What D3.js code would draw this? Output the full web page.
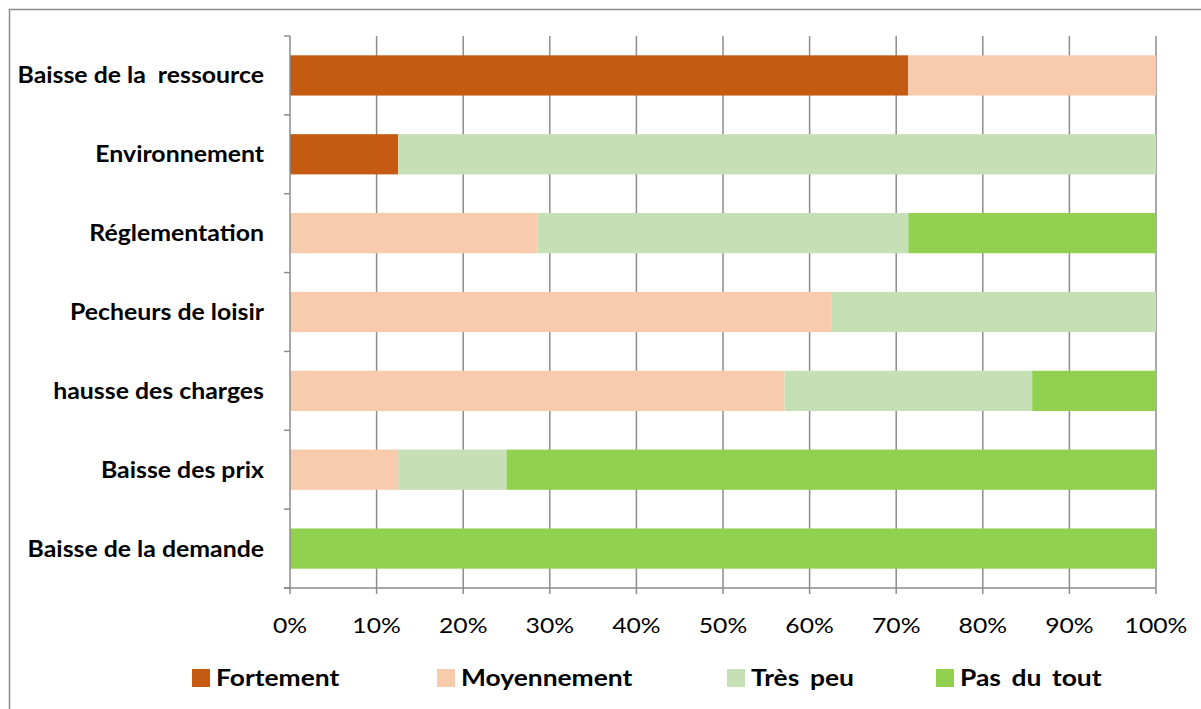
<!DOCTYPE html>
<html><head><meta charset="utf-8">
<script src="https://cdn.jsdelivr.net/npm/d3@7"></script>
<style>html,body{margin:0;padding:0;background:#fff;overflow:hidden}</style>
</head><body>
<svg id="chart" width="1201" height="709"></svg>
<script>
const categories = ["Baisse de la  ressource","Environnement","Réglementation","Pecheurs de loisir","hausse des charges","Baisse des prix","Baisse de la demande"];
const seriesNames = ["Fortement","Moyennement","Très peu","Pas du tout"];
const fortement    = [71.4, 12.5, 0,    0,    0,    0,    0];
const moyennement  = [28.6, 0,    28.6, 62.5, 57.1, 12.5, 0];
const tresPeu      = [0,    87.5, 42.8, 37.5, 28.6, 12.5, 0];
const pasDuTout    = [0,    0,    28.6, 0,    14.3, 75,   100];
const xTicks = [0,10,20,30,40,50,60,70,80,90,100];
const colors = ["#C55A11","#F8CBAD","#C5E0B4","#92D050"];

(function(){
const svg = d3.select("#chart");
const font = "Lato, 'Open Sans', sans-serif";
svg.append("rect").attr("x",9.5).attr("y",9.5).attr("width",1250).attr("height",750)
  .attr("fill","#fff").attr("stroke","#8c8c8c").attr("stroke-width",1.5);

const pL=290, pR=1156, pT=36, pB=588;
const x = d3.scaleLinear().domain([0,100]).range([pL,pR]);
const y = d3.scaleBand().domain(categories).range([pT,pB]).paddingInner(0.49).paddingOuter(0.245);
const yb = d3.scaleBand().domain(categories).range([pT,pB]);

const rows = categories.map((c,i)=>({cat:c, Fortement:fortement[i], Moyennement:moyennement[i], "Très peu":tresPeu[i], "Pas du tout":pasDuTout[i]}));
const stacked = d3.stack().keys(seriesNames)(rows);

svg.append("g").selectAll("line").data(xTicks.slice(1)).join("line")
  .attr("x1",d=>x(d)).attr("x2",d=>x(d)).attr("y1",pT).attr("y2",pB)
  .attr("stroke","#8c8c8c").attr("stroke-width",1.5);

svg.append("g").selectAll("g").data(stacked).join("g").attr("fill",(d,i)=>colors[i])
  .selectAll("rect").data(d=>d).join("rect")
  .attr("x",d=>x(d[0])).attr("width",d=>x(d[1])-x(d[0]))
  .attr("y",d=>y(d.data.cat)).attr("height",y.bandwidth());

const ax = svg.append("g").attr("stroke","#8c8c8c").attr("stroke-width",1.5);
ax.append("line").attr("x1",pL).attr("x2",pL).attr("y1",pT).attr("y2",pB);
const yTickPos = categories.map(c=>yb(c)).concat([pB]);
ax.selectAll(".yt").data(yTickPos).join("line").attr("class","yt")
  .attr("x1",pL-6).attr("x2",pL).attr("y1",d=>d).attr("y2",d=>d);
ax.append("line").attr("x1",pL-6).attr("x2",pR).attr("y1",pB).attr("y2",pB);
ax.selectAll(".xt").data(xTicks).join("line").attr("class","xt")
  .attr("x1",d=>x(d)).attr("x2",d=>x(d)).attr("y1",pB).attr("y2",pB+6);

svg.append("g").selectAll("text").data(xTicks).join("text")
  .attr("transform",d=>`translate(${x(d)},633) scale(1.15,1)`).attr("text-anchor","middle")
  .attr("font-family",font).attr("font-size",21.5).attr("fill","#000")
  .text(d=>d+"%");

svg.append("g").selectAll("text").data(categories).join("text")
  .attr("transform",c=>`translate(264,${yb(c)+yb.bandwidth()/2+8}) scale(1.08,1)`).attr("text-anchor","end")
  .attr("font-family",font).attr("font-weight","bold").attr("font-size",23).attr("fill","#000")
  .style("white-space","pre")
  .text(c=>c);

const legX = [192,437,727,936];
const lg = svg.append("g").selectAll("g").data(seriesNames).join("g")
  .attr("transform",(d,i)=>`translate(${legX[i]},669)`);
lg.append("rect").attr("width",18).attr("height",18).attr("fill",(d,i)=>colors[i]);
lg.append("text").attr("transform","translate(24,17) scale(1.2,1)").attr("font-family",font).attr("font-weight","bold")
  .attr("font-size",22).attr("word-spacing",3.5).attr("fill","#000").text(d=>d);
})();
</script>
</body></html>
